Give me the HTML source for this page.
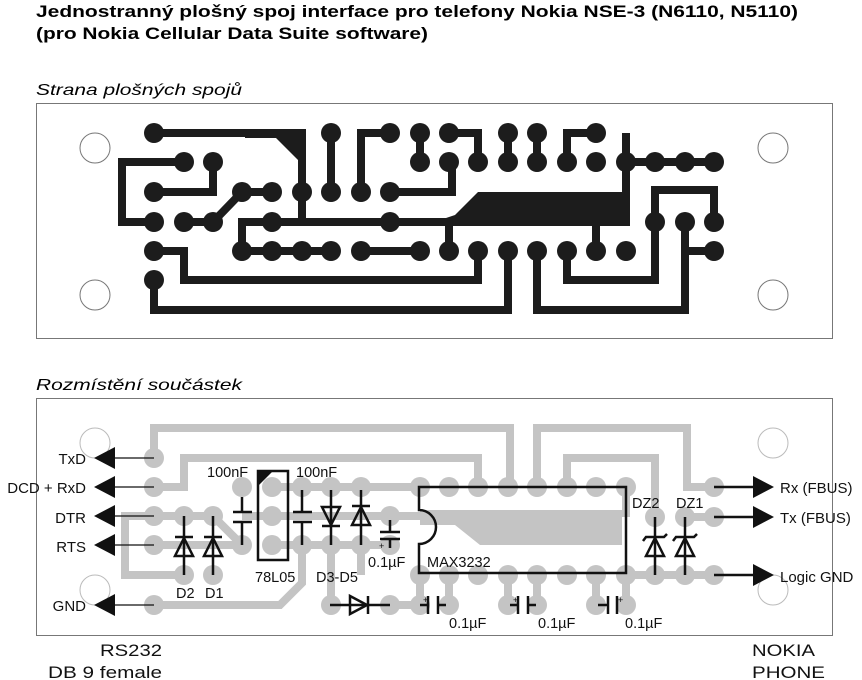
<!DOCTYPE html>
<html><head><meta charset="utf-8"><style>
html,body{margin:0;padding:0;background:#fff;}
svg{display:block;}
text{font-family:"Liberation Sans",Arial,sans-serif;}
</style></head><body>
<svg width="862" height="680" viewBox="0 0 862 680" xmlns="http://www.w3.org/2000/svg">
<rect width="862" height="680" fill="#fff"/>
<text x="36" y="17" font-size="17" font-weight="bold" textLength="762" lengthAdjust="spacingAndGlyphs">Jednostranný plošný spoj interface pro telefony Nokia NSE-3 (N6110, N5110)</text>
<text x="36" y="39" font-size="17" font-weight="bold" textLength="392" lengthAdjust="spacingAndGlyphs">(pro Nokia Cellular Data Suite software)</text>
<text x="36" y="95" font-size="16" font-style="italic" textLength="206" lengthAdjust="spacingAndGlyphs">Strana plošných spojů</text>
<text x="36" y="390" font-size="16" font-style="italic" textLength="206" lengthAdjust="spacingAndGlyphs">Rozmístění součástek</text>

<!-- TOP BOARD -->
<rect x="36.5" y="103.5" width="796" height="235" fill="#fff" stroke="#777" stroke-width="1"/>
<g fill="none" stroke="#777" stroke-width="1">
<circle cx="95" cy="148" r="15"/><circle cx="95" cy="295" r="15"/>
<circle cx="773" cy="148" r="15"/><circle cx="773" cy="295" r="15"/>
</g>
<g fill="none" stroke="#1c1c1c" stroke-width="8" stroke-linejoin="miter">
<polyline points="154,133 276,133"/>
<polyline points="302,133 302,222"/>
<polyline points="242,251 242,222 630,222"/>
<polyline points="331,133 331,192"/>
<polyline points="390,133 361,133 361,192"/>
<polyline points="420,133 420,162"/><polyline points="449,133 478,133 478,162"/>
<polyline points="508,133 508,162"/><polyline points="537,133 537,162"/>
<polyline points="596,133 567,133 567,162"/>
<polyline points="626,133 626,222"/><polyline points="626,162 714,162"/>
<polyline points="390,192 452,192 452,162"/>
<polyline points="449,222 449,251"/>
<polyline points="596,222 596,251"/>
<polyline points="655,222 655,190 714,190 714,222"/>
<polyline points="655,222 655,280 567,280 567,251"/>
<polyline points="685,222 685,310 537,310 537,251"/>
<polyline points="685,251 714,251"/>
<polyline points="508,251 508,310 154,310 154,280"/>
<polyline points="478,251 478,280 184,280 184,251 154,251"/>
<polyline points="184,162 122,162 122,222 154,222"/>
<polyline points="154,192 213,192 213,162"/>
<polyline points="184,222 213,222 242,192 272,192"/>
<polyline points="242,251 331,251"/>
<polyline points="361,251 420,251"/>
</g>
<polygon points="245,129 306,129 306,168 276,138 245,138" fill="#1c1c1c"/>
<polygon points="478,192 630,192 630,226 446,226 446,218 455,215" fill="#1c1c1c"/>
<g fill="#1c1c1c">
<circle cx="154" cy="133" r="10"/><circle cx="331" cy="133" r="10"/><circle cx="390" cy="133" r="10"/><circle cx="420" cy="133" r="10"/><circle cx="449" cy="133" r="10"/><circle cx="508" cy="133" r="10"/><circle cx="537" cy="133" r="10"/><circle cx="596" cy="133" r="10"/>
<circle cx="184" cy="162" r="10"/><circle cx="213" cy="162" r="10"/><circle cx="420" cy="162" r="10"/><circle cx="449" cy="162" r="10"/><circle cx="478" cy="162" r="10"/><circle cx="508" cy="162" r="10"/><circle cx="537" cy="162" r="10"/><circle cx="567" cy="162" r="10"/><circle cx="596" cy="162" r="10"/><circle cx="626" cy="162" r="10"/><circle cx="655" cy="162" r="10"/><circle cx="685" cy="162" r="10"/><circle cx="714" cy="162" r="10"/>
<circle cx="154" cy="192" r="10"/><circle cx="242" cy="192" r="10"/><circle cx="272" cy="192" r="10"/><circle cx="302" cy="192" r="10"/><circle cx="331" cy="192" r="10"/><circle cx="361" cy="192" r="10"/><circle cx="390" cy="192" r="10"/>
<circle cx="154" cy="222" r="10"/><circle cx="184" cy="222" r="10"/><circle cx="213" cy="222" r="10"/><circle cx="272" cy="222" r="10"/><circle cx="390" cy="222" r="10"/><circle cx="655" cy="222" r="10"/><circle cx="685" cy="222" r="10"/><circle cx="714" cy="222" r="10"/>
<circle cx="154" cy="251" r="10"/><circle cx="242" cy="251" r="10"/><circle cx="272" cy="251" r="10"/><circle cx="302" cy="251" r="10"/><circle cx="331" cy="251" r="10"/><circle cx="361" cy="251" r="10"/><circle cx="420" cy="251" r="10"/><circle cx="449" cy="251" r="10"/><circle cx="478" cy="251" r="10"/><circle cx="508" cy="251" r="10"/><circle cx="537" cy="251" r="10"/><circle cx="567" cy="251" r="10"/><circle cx="596" cy="251" r="10"/><circle cx="626" cy="251" r="10"/><circle cx="714" cy="251" r="10"/>
<circle cx="154" cy="280" r="10"/>
</g>

<!-- BOTTOM BOARD -->
<rect x="36.5" y="398.5" width="796" height="237" fill="#fff" stroke="#777" stroke-width="1"/>
<g fill="none" stroke="#bbb" stroke-width="1">
<circle cx="95" cy="443" r="15"/><circle cx="95" cy="590" r="15"/>
<circle cx="773" cy="443" r="15"/><circle cx="773" cy="590" r="15"/>
</g>
<g fill="none" stroke="#c4c4c4" stroke-width="8">
<polyline points="154,458 154,428 510,428 510,487"/>
<polyline points="537,487 537,428 687,428 687,487 714,487"/>
<polyline points="154,487 184,487 184,458 478,458 478,487"/>
<polyline points="567,487 567,458 655,458 655,517"/>
<polyline points="154,516 125,516 125,575 184,575"/>
<polyline points="154,516 213,516 242,545"/>
<polyline points="154,545 242,545"/>
<polyline points="272,487 420,487"/>
<polyline points="242,516 420,516"/>
<polyline points="272,545 390,545"/>
<polyline points="154,605 280,605 302,583 302,545"/>
<polyline points="331,545 331,605"/><polyline points="361,545 361,575"/>
<polyline points="390,605 420,605 420,575"/>
<polyline points="449,575 449,605"/><polyline points="508,575 508,605"/><polyline points="537,575 537,605"/>
<polyline points="596,575 596,605"/><polyline points="626,575 626,605"/>
<polyline points="626,575 714,575"/>
<polyline points="685,517 714,517"/>
<polyline points="626,487 626,517"/>
</g>
<polygon points="420,510 622,510 622,545 480,545 455,525 420,525" fill="#c4c4c4"/>
<g fill="#c4c4c4">
<circle cx="154" cy="458" r="10"/><circle cx="154" cy="487" r="10"/><circle cx="154" cy="516" r="10"/><circle cx="154" cy="545" r="10"/><circle cx="154" cy="605" r="10"/>
<circle cx="184" cy="516" r="10"/><circle cx="213" cy="516" r="10"/><circle cx="184" cy="575" r="10"/><circle cx="213" cy="575" r="10"/>
<circle cx="242" cy="487" r="10"/><circle cx="242" cy="545" r="10"/>
<circle cx="272" cy="487" r="10"/><circle cx="272" cy="516" r="10"/><circle cx="272" cy="545" r="10"/>
<circle cx="302" cy="487" r="10"/><circle cx="302" cy="545" r="10"/>
<circle cx="331" cy="487" r="10"/><circle cx="361" cy="487" r="10"/><circle cx="390" cy="516" r="10"/><circle cx="390" cy="545" r="10"/>
<circle cx="331" cy="545" r="10"/><circle cx="361" cy="545" r="10"/>
<circle cx="331" cy="605" r="10"/><circle cx="390" cy="605" r="10"/>
<circle cx="420" cy="487" r="10"/><circle cx="449" cy="487" r="10"/><circle cx="478" cy="487" r="10"/><circle cx="508" cy="487" r="10"/><circle cx="537" cy="487" r="10"/><circle cx="567" cy="487" r="10"/><circle cx="596" cy="487" r="10"/><circle cx="626" cy="487" r="10"/>
<circle cx="420" cy="575" r="10"/><circle cx="449" cy="575" r="10"/><circle cx="478" cy="575" r="10"/><circle cx="508" cy="575" r="10"/><circle cx="537" cy="575" r="10"/><circle cx="567" cy="575" r="10"/><circle cx="596" cy="575" r="10"/><circle cx="626" cy="575" r="10"/>
<circle cx="420" cy="605" r="10"/><circle cx="449" cy="605" r="10"/><circle cx="508" cy="605" r="10"/><circle cx="537" cy="605" r="10"/><circle cx="596" cy="605" r="10"/><circle cx="626" cy="605" r="10"/>
<circle cx="655" cy="517" r="10"/><circle cx="685" cy="517" r="10"/><circle cx="714" cy="487" r="10"/><circle cx="714" cy="517" r="10"/>
<circle cx="655" cy="575" r="10"/><circle cx="685" cy="575" r="10"/><circle cx="714" cy="575" r="10"/>
</g>

<!-- components -->
<g fill="none" stroke="#111" stroke-width="2.5">
<rect x="258" y="471" width="30" height="89" stroke-width="2.5"/>
<line x1="242" y1="497" x2="242" y2="512"/><line x1="242" y1="522" x2="242" y2="545"/>
<line x1="233" y1="512" x2="252" y2="512"/><line x1="233" y1="522" x2="252" y2="522"/>
<line x1="302" y1="490" x2="302" y2="512"/><line x1="302" y1="522" x2="302" y2="545"/>
<line x1="293" y1="512" x2="312" y2="512"/><line x1="293" y1="522" x2="312" y2="522"/>
<line x1="331" y1="490" x2="331" y2="545"/><polygon points="322,507 340,507 331,525"/><line x1="322" y1="526" x2="340" y2="526"/>
<line x1="361" y1="490" x2="361" y2="545"/><polygon points="352,525 370,525 361,507"/><line x1="352" y1="506" x2="370" y2="506"/>
<line x1="390" y1="520" x2="390" y2="532"/><line x1="390" y1="539" x2="390" y2="548"/>
<line x1="380" y1="532" x2="400" y2="532"/><line x1="380" y1="539" x2="400" y2="539"/>
<line x1="184" y1="516" x2="184" y2="575"/><polygon points="175,556 193,556 184,538"/><line x1="175" y1="537" x2="193" y2="537"/>
<line x1="213" y1="516" x2="213" y2="575"/><polygon points="204,556 222,556 213,538"/><line x1="204" y1="537" x2="222" y2="537"/>
<path d="M419,487 L626,487 L626,573 L419,573 L419,544 A17,17 0 0 0 419,510 Z"/>
<line x1="330" y1="605" x2="390" y2="605"/><polygon points="350,596 350,614 367,605"/><line x1="368" y1="596" x2="368" y2="614"/>
<line x1="655" y1="517" x2="655" y2="575"/><polygon points="646,556 664,556 655,538"/><polyline points="643,541 646,537 664,537 667,534"/>
<line x1="685" y1="517" x2="685" y2="575"/><polygon points="676,556 694,556 685,538"/><polyline points="673,541 676,537 694,537 697,534"/>
<line x1="420" y1="605" x2="428" y2="605"/><line x1="428" y1="596" x2="428" y2="614"/><line x1="438" y1="596" x2="438" y2="614"/><line x1="438" y1="605" x2="446" y2="605"/>
<line x1="510" y1="605" x2="518" y2="605"/><line x1="518" y1="596" x2="518" y2="614"/><line x1="528" y1="596" x2="528" y2="614"/><line x1="528" y1="605" x2="536" y2="605"/>
<line x1="598" y1="605" x2="608" y2="605"/><line x1="608" y1="596" x2="608" y2="614"/><line x1="617" y1="596" x2="617" y2="614"/>
</g>
<polygon points="259,472 272,472 259,485" fill="#111"/>
<g font-size="9" fill="#111"><text x="423" y="603">+</text><text x="513" y="603">+</text><text x="618" y="603">+</text><text x="379" y="549">+</text></g>

<!-- arrows -->
<g stroke="#111" stroke-width="1.2">
<line x1="114" y1="458" x2="154" y2="458"/><line x1="114" y1="487" x2="154" y2="487"/><line x1="114" y1="516" x2="154" y2="516"/><line x1="114" y1="545" x2="154" y2="545"/><line x1="114" y1="605" x2="154" y2="605"/>
</g>
<g stroke="#111" stroke-width="2.5">
<line x1="714" y1="487" x2="754" y2="487"/><line x1="714" y1="517" x2="754" y2="517"/><line x1="714" y1="575" x2="754" y2="575"/>
</g>
<g fill="#111">
<polygon points="94,458 115,447 115,469"/><polygon points="94,487 115,476 115,498"/><polygon points="94,516 115,505 115,527"/><polygon points="94,545 115,534 115,556"/><polygon points="94,605 115,594 115,616"/>
<polygon points="774,487 753,476 753,498"/><polygon points="774,517 753,506 753,528"/><polygon points="774,575 753,564 753,586"/>
</g>

<!-- labels -->
<g font-size="15" fill="#111">
<text x="86" y="464" text-anchor="end">TxD</text>
<text x="86" y="493" text-anchor="end">DCD + RxD</text>
<text x="86" y="523" text-anchor="end">DTR</text>
<text x="86" y="552" text-anchor="end">RTS</text>
<text x="86" y="611" text-anchor="end">GND</text>
<text x="780" y="493">Rx (FBUS)</text>
<text x="780" y="523">Tx (FBUS)</text>
<text x="780" y="582">Logic GND</text>
</g>
<g font-size="14.5" fill="#111">
<text x="207" y="477">100nF</text>
<text x="296" y="477">100nF</text>
<text x="255" y="582">78L05</text>
<text x="316" y="582">D3-D5</text>
<text x="368" y="567">0.1µF</text>
<text x="427" y="567">MAX3232</text>
<text x="176" y="598">D2</text><text x="205" y="598">D1</text>
<text x="632" y="508">DZ2</text><text x="676" y="508">DZ1</text>
<text x="449" y="628">0.1µF</text><text x="538" y="628">0.1µF</text><text x="625" y="628">0.1µF</text>
</g>
<g font-size="17" fill="#111">
<text x="162" y="656" text-anchor="end" textLength="62" lengthAdjust="spacingAndGlyphs">RS232</text>
<text x="162" y="678" text-anchor="end" textLength="114" lengthAdjust="spacingAndGlyphs">DB 9 female</text>
<text x="815" y="656" text-anchor="end" textLength="63" lengthAdjust="spacingAndGlyphs">NOKIA</text>
<text x="825" y="678" text-anchor="end" textLength="73" lengthAdjust="spacingAndGlyphs">PHONE</text>
</g>
</svg>
</body></html>
